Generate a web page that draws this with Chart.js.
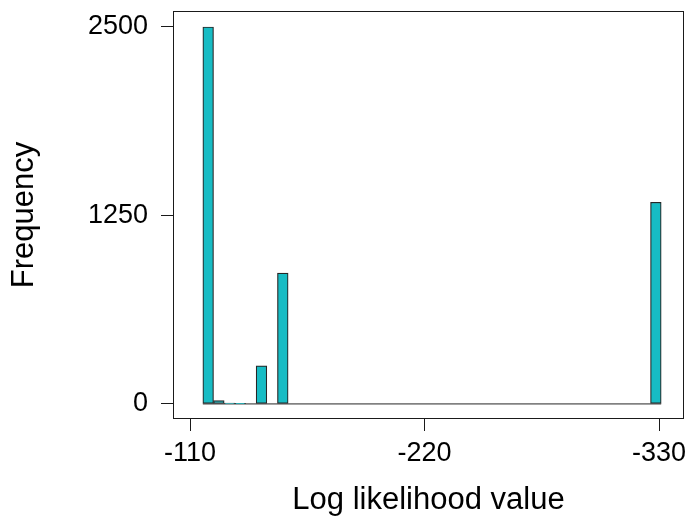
<!DOCTYPE html>
<html>
<head>
<meta charset="utf-8">
<script src="https://cdn.jsdelivr.net/npm/chart.js@4.4.1/dist/chart.umd.min.js"></script>
<style>
  html, body { margin: 0; padding: 0; background: #fff; }
  #wrap { width: 690px; height: 519px; }
</style>
</head>
<body>
<div id="wrap"><canvas id="histChart" width="690" height="519"></canvas></div>
<script>
// histogram of log likelihood values, bins of width 5 starting at -116
const binStart = -116;
const binWidth = 5;
const counts = [
    2500, 22, 5, 1, 0, 252, 0, 867, 0, 0,
    0, 0, 0, 0, 0, 0, 0, 0, 0, 0,
    0, 0, 0, 0, 0, 0, 0, 0, 0, 0,
    0, 0, 0, 0, 0, 0, 0, 0, 0, 0,
    0, 0, 1337
];
const xTicks = [-110, -220, -330];
const yTicks = [0, 1250, 2500];

const barFill = '#17bcc4';
const barEdge = '#262626';
const inkColor = '#1a1a1a';
const labelFont = { family: "'Liberation Sans', Arial, sans-serif", size: 27 };
const titleFont = { family: "'Liberation Sans', Arial, sans-serif", size: 31 };

const binCenters = counts.map((_, i) => binStart - binWidth * i - binWidth / 2);
const barData = counts.map((c, i) => ({ x: binCenters[i], y: c }));
const binEdges = [binStart, binStart - binWidth * counts.length];

// frame around the plotting region, like base graphics box()
const boxPlugin = {
    id: 'plotBox',
    afterDraw(chart) {
        const { ctx, chartArea: a } = chart;
        ctx.save();
        ctx.strokeStyle = inkColor;
        ctx.lineWidth = 1;
        ctx.strokeRect(Math.round(a.left) + 0.5, Math.round(a.top) + 0.5,
            Math.round(a.right - a.left) - 1, Math.round(a.bottom - a.top) - 1);
        ctx.restore();
    }
};

new Chart(document.getElementById('histChart'), {
    type: 'bar',
    data: {
        datasets: [{
            // empty bins still leave their outline along the zero line
            type: 'line',
            data: binEdges.map(x => ({ x: x, y: 0 })),
            borderColor: barEdge,
            borderWidth: 1,
            pointRadius: 0,
            order: 2
        }, {
            data: barData,
            backgroundColor: barFill,
            borderColor: barEdge,
            borderWidth: 1.2,
            borderSkipped: false,
            barPercentage: 1,
            categoryPercentage: 1,
            order: 1
        }]
    },
    options: {
        responsive: false,
        animation: false,
        layout: { padding: { top: 11, right: 6, left: 0, bottom: 0 } },
        plugins: {
            legend: { display: false },
            tooltip: { enabled: false }
        },
        scales: {
            x: {
                type: 'linear',
                reverse: true,
                min: -341.7,
                max: -102,
                offset: false,
                afterBuildTicks: s => { s.ticks = xTicks.map(v => ({ value: v })); },
                afterFit: s => {
                    s.height = 100;
                    s.paddingLeft = 0;
                    s.paddingRight = 0;
                },
                grid: {
                    offset: false,
                    drawOnChartArea: false,
                    drawTicks: true,
                    tickLength: 12,
                    color: inkColor
                },
                border: { display: false },
                ticks: {
                    color: '#000',
                    font: labelFont,
                    padding: 6,
                    maxRotation: 0,
                    callback: v => String(v)
                },
                title: {
                    display: true,
                    text: 'Log likelihood value',
                    color: '#000',
                    font: titleFont,
                    padding: { top: 0, bottom: 0 }
                }
            },
            y: {
                min: -100,
                max: 2606,
                afterBuildTicks: s => { s.ticks = yTicks.map(v => ({ value: v })); },
                afterFit: s => {
                    s.width = 173;
                    s.paddingTop = 0;
                    s.paddingBottom = 0;
                },
                grid: {
                    drawOnChartArea: false,
                    drawTicks: true,
                    tickLength: 12,
                    color: inkColor
                },
                border: { display: false },
                ticks: {
                    color: '#000',
                    font: labelFont,
                    padding: 13,
                    callback: v => String(v)
                },
                title: {
                    display: true,
                    text: 'Frequency',
                    color: '#000',
                    font: titleFont,
                    padding: { top: 6, bottom: 0 }
                }
            }
        }
    },
    plugins: [boxPlugin]
});
</script>
</body>
</html>
